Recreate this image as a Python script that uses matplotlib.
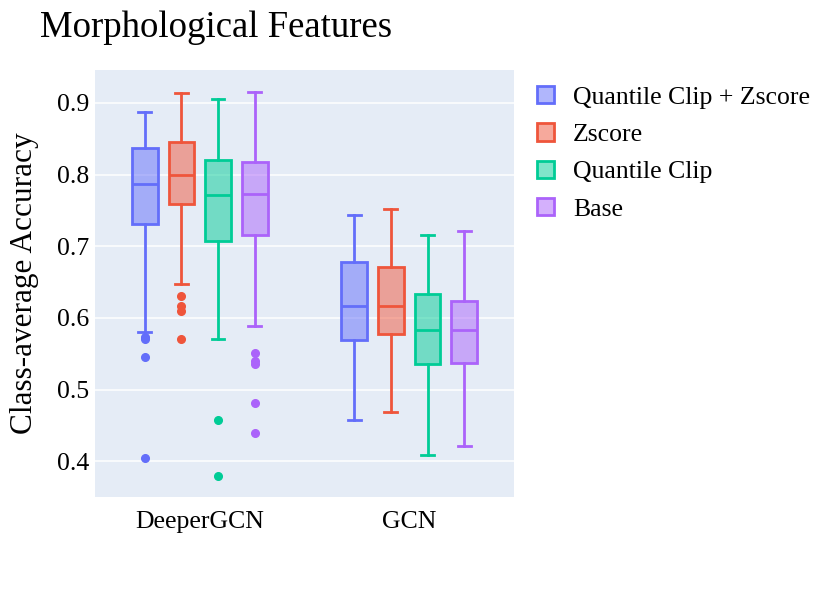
"""
Box plot of class-average accuracy by model and normalisation
"""
import matplotlib
matplotlib.use('Agg')
import matplotlib.pyplot as plt
from matplotlib.colors import to_rgba
from matplotlib.patches import Patch

# Categories and series
models_ = ['DeeperGCN', 'GCN']
series = ['Quantile Clip + Zscore', 'Zscore', 'Quantile Clip', 'Base']
colors = ['#636efa', '#EF553B', '#00cc96', '#ab63fa']

# Box stats, per series: [DeeperGCN, GCN]
whishi = [[0.887, 0.744], [0.914, 0.752], [0.905, 0.715], [0.915, 0.721]]
q3 = [[0.837, 0.678], [0.845, 0.671], [0.820, 0.633], [0.817, 0.623]]
med = [[0.787, 0.616], [0.799, 0.616], [0.771, 0.583], [0.773, 0.583]]
q1 = [[0.731, 0.569], [0.759, 0.577], [0.707, 0.535], [0.715, 0.537]]
whislo = [[0.580, 0.458], [0.647, 0.468], [0.570, 0.408], [0.588, 0.421]]
fliers = [
    [[0.573, 0.570, 0.546, 0.405], []],
    [[0.631, 0.616, 0.610, 0.571], []],
    [[0.457, 0.379], []],
    [[0.551, 0.540, 0.535, 0.481, 0.440], []],
]

yticks = [0.4, 0.5, 0.6, 0.7, 0.8, 0.9]

plt.rcParams['font.family'] = ['Liberation Serif', 'DejaVu Serif']

fig = plt.figure(figsize=(8.31, 5.93), dpi=100)
ax = fig.add_axes([0.1143, 0.1619, 0.5042, 0.7201])
ax.set_facecolor('#E5ECF6')

group_w = 0.7
slot = group_w / len(series)
box_w = slot * 0.7

for i, (name, c) in enumerate(zip(series, colors)):
    stats = []
    for j in range(len(models_)):
        stats.append({
            'med': med[i][j], 'q1': q1[i][j], 'q3': q3[i][j],
            'whislo': whislo[i][j], 'whishi': whishi[i][j],
            'fliers': fliers[i][j],
        })
    pos = [j - group_w / 2 + slot * (i + 0.5) for j in range(len(models_))]
    ax.bxp(stats, positions=pos, widths=box_w, patch_artist=True,
           showcaps=True, capwidths=box_w * 0.5,
           boxprops=dict(facecolor=to_rgba(c, 0.5), edgecolor=c, linewidth=2),
           medianprops=dict(color=c, linewidth=2),
           whiskerprops=dict(color=c, linewidth=2),
           capprops=dict(color=c, linewidth=2),
           flierprops=dict(marker='o', markerfacecolor=c, markeredgecolor=c,
                           markersize=5.5, linestyle='none'),
           zorder=3)

ax.set_xlim(-0.5, 1.5)
ax.set_ylim(0.35, 0.946)
ax.set_xticks(range(len(models_)))
ax.set_xticklabels(models_, fontsize=18.5)
ax.set_yticks(yticks)
ax.set_yticklabels([f'{t:.1f}' for t in yticks], fontsize=18.5)
ax.tick_params(axis='x', length=0, pad=10)
ax.tick_params(axis='y', length=0, pad=4)
ax.grid(axis='y', color='white', linewidth=1.1, zorder=0)
ax.set_axisbelow(True)
for s in ax.spines.values():
    s.set_visible(False)

ax.set_ylabel('Class-average Accuracy', fontsize=22.5, labelpad=13)
fig.text(0.048, 0.954, 'Morphological Features', fontsize=26.5, va='center')

handles = [Patch(facecolor=to_rgba(c, 0.5), edgecolor=c, linewidth=2) for c in colors]
fig.legend(handles, series, loc='upper left', bbox_to_anchor=(0.634, 0.872),
           frameon=False, fontsize=18.5, handlelength=0.65, handleheight=0.65,
           handletextpad=0.75, labelspacing=0.57, borderaxespad=0)

plt.savefig('out.png', dpi=100)
plt.close()
